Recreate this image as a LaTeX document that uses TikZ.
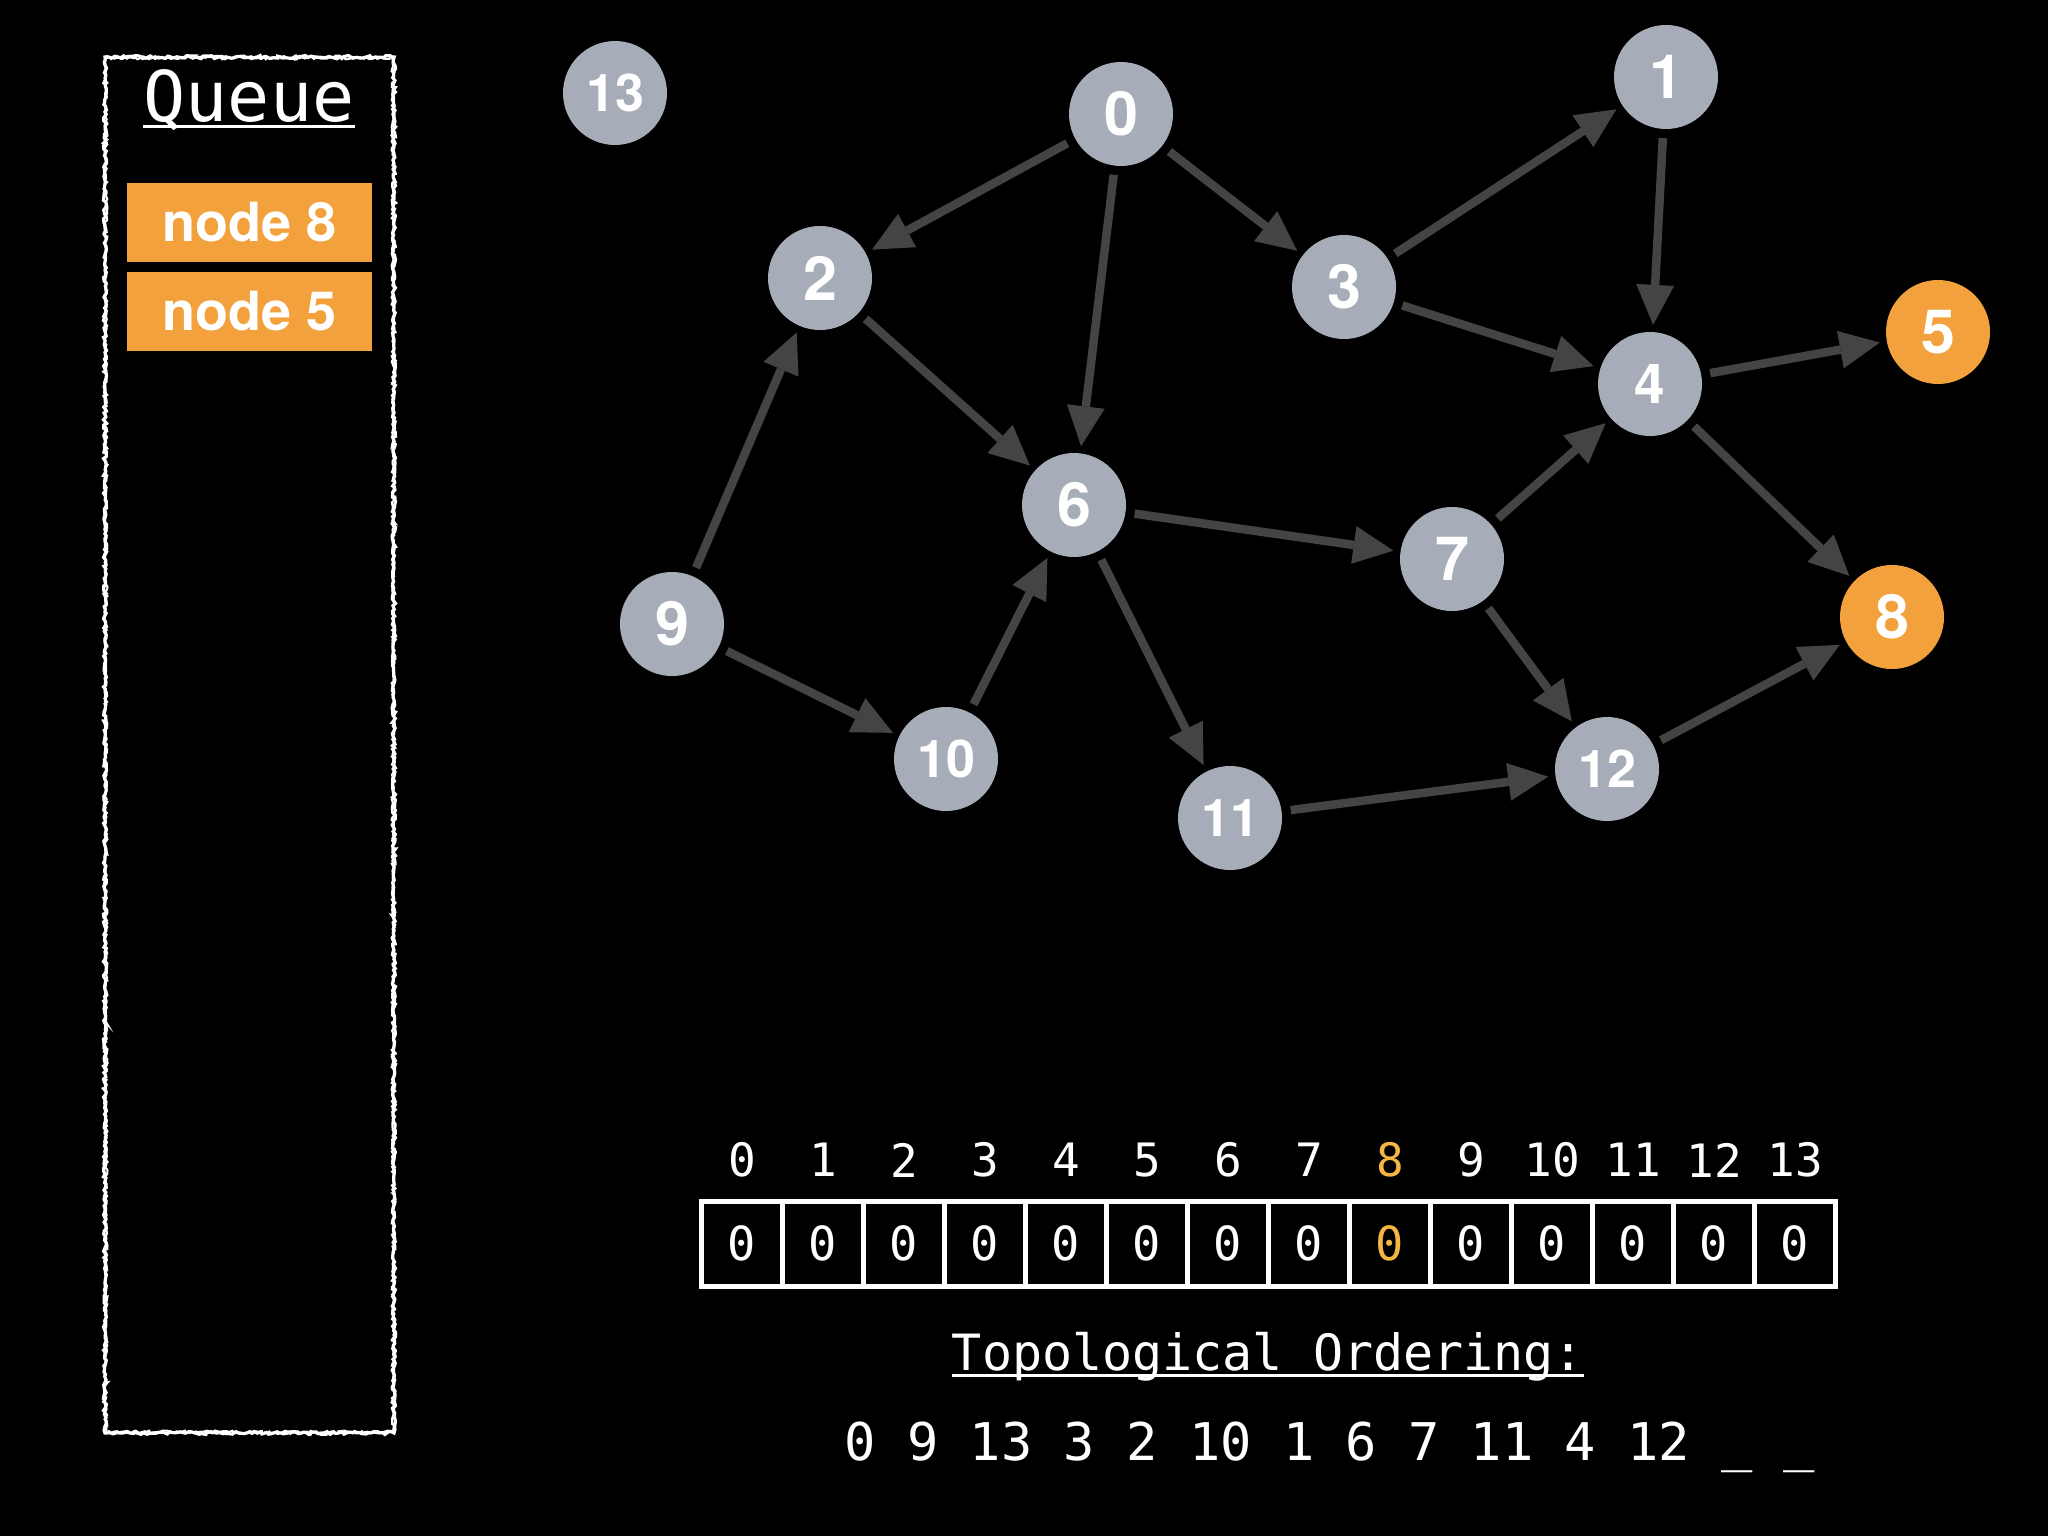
\documentclass[tikz,border=0pt]{standalone}
\usepackage{fontspec}
\setmainfont{TeX Gyre Heros}
\newfontfamily\monof{DejaVu Sans Mono}
\usetikzlibrary{arrows.meta,decorations.pathmorphing}
\definecolor{nodegray}{RGB}{166,172,184}
\definecolor{nodeorange}{RGB}{243,161,61}
\definecolor{edgegray}{RGB}{68,68,68}
\definecolor{hl}{RGB}{245,182,66}
\tikzset{
  vert/.style={circle, fill=nodegray, minimum size=104pt, inner sep=0pt, text=white,
    font=\fontsize{61}{61}\selectfont\bfseries},
  twodig/.style={font=\fontsize{52}{52}\selectfont\bfseries},
  done/.style={vert, fill=nodeorange},
  edge/.style={draw=edgegray, line width=8.5pt,
    -{Triangle[length=40pt,width=38pt,line width=0pt]}, shorten >=7pt, shorten <=9pt},
  qitem/.style={fill=nodeorange, minimum width=245pt, minimum height=79pt, inner sep=0pt,
    text=white, font=\fontsize{54}{54}\selectfont\bfseries},
  cell/.style={draw=white, line width=5pt, minimum width=81pt, minimum height=85pt,
    inner sep=0pt, text=white, font=\monof\fontsize{47}{47}\selectfont},
  idx/.style={text=white, inner sep=0pt, font=\monof\fontsize{46}{46}\selectfont},
  monotext/.style={text=white, inner sep=0pt},
  sketch/.style={draw=white, line width=3.2pt, decorate,
    decoration={random steps, segment length=2.5pt, amplitude=1.5pt}}
}
\begin{document}
\begin{tikzpicture}[x=1pt,y=-1pt]
\fill[black] (0,0) rectangle (2048,1536);
\useasboundingbox (0,0) rectangle (2048,1536);

% queue panel
\pgfmathsetseed{7}
\draw[sketch] (105,57) rectangle (394,1433);
\draw[sketch, line width=2pt] (106,58) rectangle (393,1432);
\node[monotext, anchor=base, font=\monof\fontsize{70}{70}\selectfont] (qtitle) at (249,122) {Queue};
\draw[white, line width=3pt] ([yshift=-5pt]qtitle.base west) -- ([yshift=-5pt]qtitle.base east);
\node[qitem] (q8) at (249.5,222.5) {node 8};
\node[qitem] (q5) at (249.5,311.5) {node 5};

% graph nodes
\node[vert, twodig] (n13) at (615,93) {13};
\node[vert] (n0) at (1121,114) {0};
\node[vert] (n1) at (1666,77) {1};
\node[vert] (n2) at (820,278) {2};
\node[vert] (n3) at (1344,287) {3};
\node[vert, font=\fontsize{55}{55}\selectfont\bfseries] (n4) at (1650,384) {4};
\node[done] (n5) at (1938,332) {5};
\node[vert] (n6) at (1074,505) {6};
\node[vert] (n7) at (1452,559) {7};
\node[done] (n8) at (1892,617) {8};
\node[vert] (n9) at (672,624) {9};
\node[vert, twodig] (n10) at (946,759) {10};
\node[vert, twodig] (n11) at (1230,818) {11};
\node[vert, twodig] (n12) at (1607,769) {12};

% edges
\draw[edge] (n0) -- (n2);
\draw[edge] (n0) -- (n6);
\draw[edge] (n0) -- (n3);
\draw[edge] (n3) -- (n1);
\draw[edge] (n3) -- (n4);
\draw[edge] (n1) -- (n4);
\draw[edge] (n4) -- (n5);
\draw[edge] (n4) -- (n8);
\draw[edge] (n2) -- (n6);
\draw[edge] (n9) -- (n2);
\draw[edge] (n9) -- (n10);
\draw[edge] (n10) -- (n6);
\draw[edge] (n6) -- (n7);
\draw[edge] (n6) -- (n11);
\draw[edge] (n7) -- (n4);
\draw[edge] (n7) -- (n12);
\draw[edge] (n11) -- (n12);
\draw[edge] (n12) -- (n8);

% in-degree array
\foreach \i in {0,...,13} {
  \ifnum\i=8
    \node[idx, text=hl] (i\i) at ({742.5+81*\i},1160) {\i};
    \node[cell, text=hl] (c\i) at ({741.5+81*\i},1243.5) {0};
  \else
    \node[idx] (i\i) at ({742.5+81*\i},1160) {\i};
    \node[cell] (c\i) at ({741.5+81*\i},1243.5) {0};
  \fi
}

% ordering
\node[monotext, anchor=base, font=\monof\fontsize{50}{50}\selectfont] (topo) at (1268,1370) {Topological Ordering:};
\draw[white, line width=3pt] ([yshift=-5pt]topo.base west) -- ([yshift=-5pt]topo.base east);
\node[monotext, anchor=base, font=\monof\fontsize{52}{52}\selectfont] (order) at (1330,1460) {0 9 13 3 2 10 1 6 7 11 4 12 \_ \_};
\end{tikzpicture}
\end{document}
